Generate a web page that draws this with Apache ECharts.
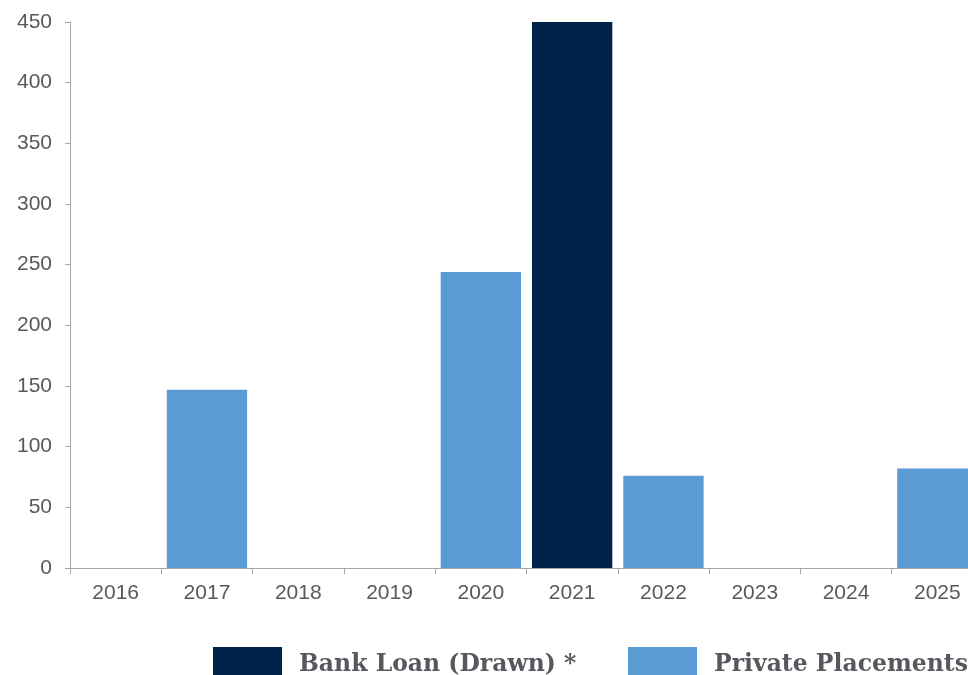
<!DOCTYPE html>
<html>
<head>
<meta charset="utf-8">
<script src="https://cdn.jsdelivr.net/npm/echarts@6/dist/echarts.min.js"></script>
<style>
  html, body { margin: 0; padding: 0; background: #ffffff; }
  #chart { width: 968px; height: 675px; }
</style>
</head>
<body>
<div id="chart"></div>
<script>
// Debt maturity profile by year
const years = ['2016', '2017', '2018', '2019', '2020', '2021', '2022', '2023', '2024', '2025'];
const bankLoan = [null, null, null, null, null, 450, null, null, null, null];
const privatePlacements = [null, 147, null, null, 244, null, 76, null, null, 82];
const yTicks = { min: 0, max: 450, step: 50 };
const seriesNames = ['Bank Loan (Drawn) *', 'Private Placements'];

const axisGrey = '#a6a6a6';
const labelGrey = '#595959';

// one legend block per series so the long second label can run to the edge
function legendAt(left, name) {
  return {
    left: left,
    top: 647,
    padding: 0,
    itemWidth: 69,
    itemHeight: 28,
    icon: 'rect',
    formatter: n => '{t|' + n + '}',
    textStyle: {
      rich: {
        t: {
          fontFamily: 'DejaVu Serif',
          fontWeight: 'bold',
          fontSize: 23.5,
          color: '#55595e',
          padding: [8, 0, 0, 12]
        }
      }
    },
    data: [name]
  };
}

const chart = echarts.init(document.getElementById('chart'));
chart.setOption({
  animation: false,
  // the last category runs past the right edge of the canvas
  grid: { left: 70, top: 22, right: -15, bottom: 107, containLabel: false, outerBoundsMode: 'none' },
  legend: [legendAt(213, seriesNames[0]), legendAt(628, seriesNames[1])],
  xAxis: {
    type: 'category',
    data: years,
    axisLine: { lineStyle: { color: axisGrey, width: 1 } },
    axisTick: { show: true, length: 6, lineStyle: { color: axisGrey } },
    axisLabel: { color: labelGrey, fontFamily: 'Liberation Sans', fontSize: 21, margin: 15 }
  },
  yAxis: {
    type: 'value',
    min: yTicks.min,
    max: yTicks.max,
    interval: yTicks.step,
    axisLine: { show: true, lineStyle: { color: axisGrey, width: 1 } },
    axisTick: { show: true, length: 5, lineStyle: { color: axisGrey } },
    splitLine: { show: false },
    axisLabel: { color: labelGrey, fontFamily: 'Liberation Sans', fontSize: 21, margin: 18 }
  },
  series: [
    {
      name: seriesNames[0],
      type: 'bar',
      stack: 'debt',
      data: bankLoan,
      barCategoryGap: '12%',
      itemStyle: { color: '#01234a' }
    },
    {
      name: seriesNames[1],
      type: 'bar',
      stack: 'debt',
      data: privatePlacements,
      barCategoryGap: '12%',
      itemStyle: { color: '#5b9bd5' }
    }
  ]
});
</script>
</body>
</html>
